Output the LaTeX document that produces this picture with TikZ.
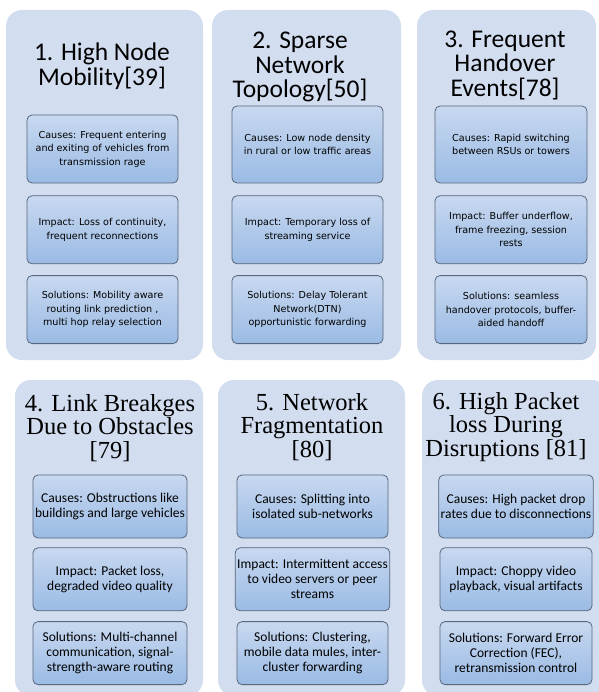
\documentclass[tikz,border=0pt]{standalone}
\usepackage{fontspec}
\setmainfont{Carlito}
\newfontfamily\dejavu{DejaVu Sans}
\newfontfamily\timesfont{Liberation Serif}
\usetikzlibrary{positioning}
\definecolor{panelblue}{rgb}{0.824, 0.867, 0.937}
\definecolor{boxtop}{rgb}{0.784, 0.847, 0.941}
\definecolor{boxbottom}{rgb}{0.604, 0.733, 0.894}
\definecolor{boxedge}{rgb}{0.345, 0.404, 0.490}

\begin{document}
\begin{tikzpicture}[x=1pt, y=-1pt,
        panel/.style={fill=panelblue, rounded corners=16pt, inner sep=0pt},
        toptitle/.style={align=center, inner sep=0pt, font=\fontsize{25.5}{24.5}\selectfont},
        lowtitle/.style={align=center, inner sep=0pt, font=\timesfont\fontsize{24.5}{23.5}\selectfont},
        infobox/.style={draw=boxedge, line width=0.8pt, rounded corners=5pt, top color=boxtop,
            bottom color=boxbottom, align=center, inner sep=2pt},
        topbox/.style={infobox, minimum width=151pt, minimum height=68pt,
            font=\dejavu\fontsize{9.6}{13.5}\selectfont},
        lowbox/.style={infobox, minimum width=152pt, minimum height=63pt,
            font=\fontsize{13.5}{15}\selectfont}]
        \useasboundingbox (0,0) rectangle (598,692);

        % top row
        \node (P1) [panel, minimum width=197pt, minimum height=350pt] at (104.5,185) {};
        \node (P2) [panel, minimum width=189pt, minimum height=350pt] at (306.5,185) {};
        \node (P3) [panel, minimum width=179pt, minimum height=350pt] at (506.5,185) {};

        \node (H1) [toptitle] at (102,66) {1. High Node\\Mobility[39]};
        \node (H2) [toptitle] at (300,67) {2. Sparse\\Network\\Topology[50]};
        \node (H3) [toptitle] at (505,65) {3. Frequent\\Handover\\Events[78]};

        \node (C1) [topbox] at (102.5,149) {Causes: Frequent entering\\and exiting of vehicles from\\transmission rage};
        \node (I1) [topbox, below=12pt of C1] {Impact: Loss of continuity,\\frequent reconnections};
        \node (S1) [topbox, below=11pt of I1] {Solutions: Mobility aware\\routing link prediction ,\\multi hop relay selection};

        \node (C2) [topbox, minimum height=77pt] at (307.5,144.5) {Causes: Low node density\\in rural or low traffic areas};
        \node (I2) [topbox, below=12pt of C2] {Impact: Temporary loss of\\streaming service};
        \node (S2) [topbox, below=11pt of I2] {Solutions: Delay Tolerant\\Network(DTN)\\opportunistic forwarding};

        \node (C3) [topbox, minimum width=152pt, minimum height=77pt] at (511,144.5) {Causes: Rapid switching\\between RSUs or towers};
        \node (I3) [topbox, minimum width=152pt, below=12pt of C3] {Impact: Buffer underflow,\\frame freezing, session\\rests};
        \node (S3) [topbox, minimum width=152pt, below=11pt of I3] {Solutions: seamless\\handover protocols, buffer-\\aided handoff};

        % bottom row
        \node (P4) [panel, minimum width=188pt, minimum height=316pt] at (109,538) {};
        \node (P5) [panel, minimum width=187pt, minimum height=316pt] at (311.5,538) {};
        \node (P6) [panel, minimum width=186pt, minimum height=316pt] at (515,538) {};

        \node (H4) [lowtitle] at (110,428) {4. Link Breakges\\Due to Obstacles\\[0pt][79]};
        \node (H5) [lowtitle] at (312,427) {5. Network\\Fragmentation\\[0pt][80]};
        \node (H6) [lowtitle] at (506,427) {6. High Packet\\loss During\\Disruptions [81]};

        \node (C4) [lowbox, minimum width=154pt] at (110,506.5) {Causes: Obstructions like\\buildings and large vehicles};
        \node (I4) [lowbox, minimum width=154pt, below=9pt of C4] {Impact: Packet loss,\\degraded video quality};
        \node (S4) [lowbox, minimum width=154pt, below=10pt of I4] {Solutions: Multi-channel\\communication, signal-\\strength-aware routing};

        \node (C5) [lowbox, minimum width=151pt] at (312.5,506.5) {Causes: Splitting into\\isolated sub-networks};
        \node (I5) [lowbox, minimum width=151pt, below=9pt of C5] {Impact: Intermittent access\\to video servers or peer\\streams};
        \node (S5) [lowbox, minimum width=151pt, below=10pt of I5] {Solutions: Clustering,\\mobile data mules, inter-\\cluster forwarding};

        \node (C6) [lowbox] at (516,506.5) {Causes: High packet drop\\rates due to disconnections};
        \node (I6) [lowbox, below=9pt of C6] {Impact: Choppy video\\playback, visual artifacts};
        \node (S6) [lowbox, below=10pt of I6] {Solutions: Forward Error\\Correction (FEC),\\retransmission control};
\end{tikzpicture}
\end{document}
